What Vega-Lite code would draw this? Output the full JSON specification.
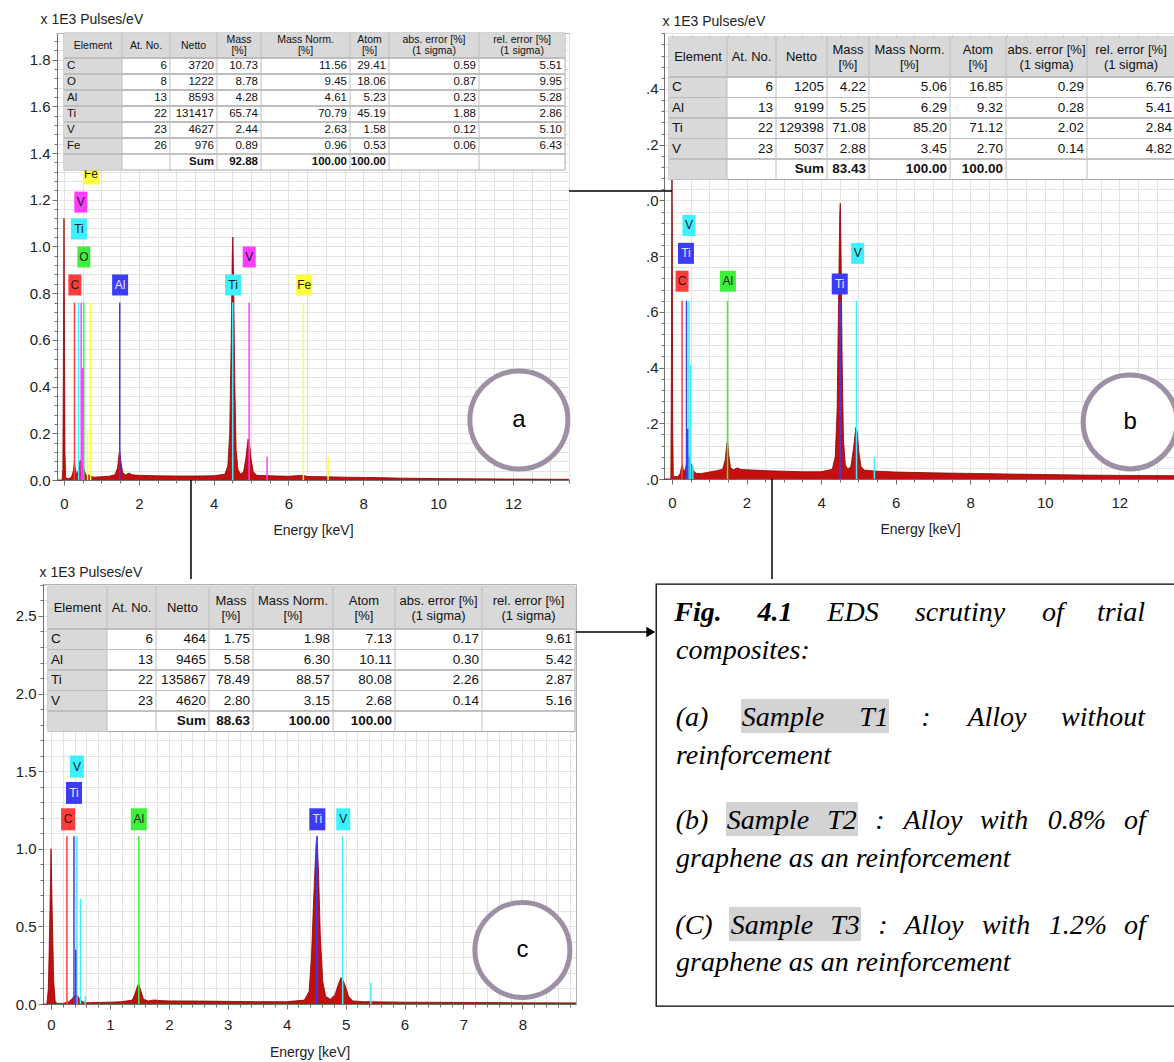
{
"$schema": "https://vega.github.io/schema/vega-lite/v6.json",
"padding": {"left": 14, "top": 11, "right": 0, "bottom": 0},
"background": "white",
"config": {
 "view": {"stroke": "#b0b0b0", "strokeWidth": 1},
 "axis": {"labelFont": "Liberation Sans", "titleFont": "Liberation Sans", "labelFontSize": 15, "titleFontSize": 14, "titleFontWeight": "normal", "labelColor": "#222222", "titleColor": "#222222", "gridColor": "#e3e3e3", "domainColor": "#707070", "tickColor": "#707070", "tickSize": 4, "labelOverlap": false},
 "text": {"font": "Liberation Sans"}
},
"datasets": {
 "specA": [{"e":-0.187,"v":0},{"e":-0.05,"v":0},{"e":-0.03,"v":0.05},{"e":-0.015,"v":0.55},{"e":0,"v":1.12},{"e":0.012,"v":0.65},{"e":0.025,"v":0.12},{"e":0.045,"v":0.01},{"e":0.12,"v":0.005},{"e":0.2,"v":0.012},{"e":0.25,"v":0.04},{"e":0.28,"v":0.075},{"e":0.3,"v":0.05},{"e":0.34,"v":0.02},{"e":0.38,"v":0.04},{"e":0.43,"v":0.085},{"e":0.47,"v":0.07},{"e":0.51,"v":0.06},{"e":0.55,"v":0.035},{"e":0.6,"v":0.018},{"e":0.66,"v":0.022},{"e":0.72,"v":0.016},{"e":0.8,"v":0.012},{"e":1.0,"v":0.014},{"e":1.2,"v":0.016},{"e":1.36,"v":0.022},{"e":1.43,"v":0.05},{"e":1.47,"v":0.11},{"e":1.49,"v":0.125},{"e":1.52,"v":0.08},{"e":1.57,"v":0.03},{"e":1.65,"v":0.022},{"e":1.74,"v":0.03},{"e":1.82,"v":0.022},{"e":2.0,"v":0.02},{"e":2.5,"v":0.018},{"e":3.0,"v":0.017},{"e":3.5,"v":0.017},{"e":4.0,"v":0.018},{"e":4.3,"v":0.025},{"e":4.38,"v":0.06},{"e":4.43,"v":0.2},{"e":4.47,"v":0.6},{"e":4.5,"v":0.98},{"e":4.515,"v":1.04},{"e":4.535,"v":0.85},{"e":4.565,"v":0.42},{"e":4.6,"v":0.13},{"e":4.65,"v":0.045},{"e":4.72,"v":0.025},{"e":4.8,"v":0.035},{"e":4.86,"v":0.09},{"e":4.92,"v":0.175},{"e":4.96,"v":0.16},{"e":5.0,"v":0.09},{"e":5.06,"v":0.035},{"e":5.15,"v":0.02},{"e":5.5,"v":0.018},{"e":6.0,"v":0.016},{"e":6.4,"v":0.02},{"e":6.5,"v":0.015},{"e":7.0,"v":0.014},{"e":7.5,"v":0.012},{"e":8.0,"v":0.011},{"e":8.5,"v":0.01},{"e":9.0,"v":0.008},{"e":9.5,"v":0.007},{"e":10.0,"v":0.006},{"e":11.0,"v":0.005},{"e":12.0,"v":0.004},{"e":13.5,"v":0.003}],
 "lineA": [{"el":"C","e":0.28,"h":0.76},{"el":"Ti","e":0.39,"h":0.76},{"el":"V","e":0.46,"h":0.76},{"el":"O","e":0.53,"h":0.76},{"el":"V","e":0.5,"h":0.48},{"el":"Fe","e":0.63,"h":0.22},{"el":"Fe","e":0.71,"h":0.76},{"el":"Al","e":1.49,"h":0.76},{"el":"Ti","e":4.51,"h":0.76},{"el":"V","e":4.95,"h":0.76},{"el":"V","e":5.43,"h":0.1},{"el":"Fe","e":6.4,"h":0.76},{"el":"Fe","e":7.06,"h":0.1}],
 "labA": [{"el":"C","e":0.29,"v":0.835},{"el":"O","e":0.53,"v":0.955},{"el":"Ti","e":0.4,"v":1.075},{"el":"V","e":0.45,"v":1.19},{"el":"Fe","e":0.72,"v":1.31},{"el":"Al","e":1.5,"v":0.835},{"el":"Ti","e":4.52,"v":0.835},{"el":"V","e":4.95,"v":0.955},{"el":"Fe","e":6.42,"v":0.835}],
 "specB": [{"e":-0.214,"v":0},{"e":-0.03,"v":0},{"e":-0.015,"v":0.4},{"e":-0.005,"v":1.0},{"e":0,"v":1.1},{"e":0.008,"v":0.9},{"e":0.018,"v":0.2},{"e":0.035,"v":0.01},{"e":0.15,"v":0.008},{"e":0.22,"v":0.02},{"e":0.26,"v":0.045},{"e":0.28,"v":0.05},{"e":0.31,"v":0.03},{"e":0.35,"v":0.03},{"e":0.4,"v":0.06},{"e":0.45,"v":0.085},{"e":0.49,"v":0.06},{"e":0.53,"v":0.05},{"e":0.58,"v":0.03},{"e":0.65,"v":0.02},{"e":0.8,"v":0.02},{"e":1.0,"v":0.025},{"e":1.2,"v":0.03},{"e":1.36,"v":0.035},{"e":1.43,"v":0.07},{"e":1.47,"v":0.125},{"e":1.49,"v":0.135},{"e":1.52,"v":0.09},{"e":1.57,"v":0.04},{"e":1.65,"v":0.033},{"e":1.75,"v":0.04},{"e":1.85,"v":0.034},{"e":2.0,"v":0.033},{"e":2.5,"v":0.03},{"e":3.0,"v":0.028},{"e":3.5,"v":0.026},{"e":4.0,"v":0.026},{"e":4.3,"v":0.035},{"e":4.38,"v":0.08},{"e":4.43,"v":0.25},{"e":4.47,"v":0.65},{"e":4.5,"v":0.95},{"e":4.515,"v":0.99},{"e":4.535,"v":0.82},{"e":4.565,"v":0.42},{"e":4.6,"v":0.14},{"e":4.65,"v":0.05},{"e":4.72,"v":0.035},{"e":4.8,"v":0.045},{"e":4.87,"v":0.11},{"e":4.93,"v":0.185},{"e":4.97,"v":0.17},{"e":5.01,"v":0.1},{"e":5.07,"v":0.045},{"e":5.15,"v":0.032},{"e":5.5,"v":0.028},{"e":6.0,"v":0.025},{"e":7.0,"v":0.022},{"e":8.0,"v":0.02},{"e":9.0,"v":0.018},{"e":10.0,"v":0.016},{"e":11.0,"v":0.014},{"e":12.0,"v":0.013},{"e":13.52,"v":0.012}],
 "lineB": [{"el":"C","e":0.27,"h":0.64},{"el":"Ti","e":0.39,"h":0.64},{"el":"V","e":0.455,"h":0.64},{"el":"Ti","e":0.42,"h":0.18},{"el":"V","e":0.5,"h":0.41},{"el":"V","e":0.56,"h":0.05},{"el":"Al","e":1.49,"h":0.64},{"el":"Ti","e":4.51,"h":0.64},{"el":"V","e":4.95,"h":0.64},{"el":"V","e":5.43,"h":0.08}],
 "labB": [{"el":"C","e":0.27,"v":0.71},{"el":"Ti","e":0.375,"v":0.81},{"el":"V","e":0.455,"v":0.91},{"el":"Al","e":1.5,"v":0.71},{"el":"Ti","e":4.5,"v":0.7},{"el":"V","e":4.98,"v":0.81}],
 "specC": [{"e":-0.136,"v":0},{"e":-0.07,"v":0},{"e":-0.045,"v":0.1},{"e":-0.02,"v":0.55},{"e":0,"v":1.0},{"e":0.02,"v":0.6},{"e":0.045,"v":0.15},{"e":0.07,"v":0.02},{"e":0.1,"v":0.004},{"e":0.2,"v":0.004},{"e":0.26,"v":0.01},{"e":0.3,"v":0.015},{"e":0.35,"v":0.03},{"e":0.4,"v":0.055},{"e":0.44,"v":0.06},{"e":0.48,"v":0.035},{"e":0.53,"v":0.015},{"e":0.6,"v":0.008},{"e":0.8,"v":0.01},{"e":1.0,"v":0.012},{"e":1.2,"v":0.015},{"e":1.38,"v":0.025},{"e":1.43,"v":0.07},{"e":1.47,"v":0.12},{"e":1.49,"v":0.13},{"e":1.52,"v":0.09},{"e":1.57,"v":0.03},{"e":1.65,"v":0.02},{"e":1.75,"v":0.026},{"e":1.85,"v":0.022},{"e":2.0,"v":0.02},{"e":2.5,"v":0.019},{"e":3.0,"v":0.017},{"e":3.5,"v":0.015},{"e":4.0,"v":0.015},{"e":4.3,"v":0.025},{"e":4.38,"v":0.08},{"e":4.42,"v":0.3},{"e":4.46,"v":0.7},{"e":4.5,"v":1.04},{"e":4.515,"v":1.08},{"e":4.54,"v":0.85},{"e":4.57,"v":0.45},{"e":4.61,"v":0.15},{"e":4.66,"v":0.05},{"e":4.74,"v":0.03},{"e":4.82,"v":0.06},{"e":4.87,"v":0.12},{"e":4.92,"v":0.17},{"e":4.96,"v":0.15},{"e":5.0,"v":0.11},{"e":5.05,"v":0.05},{"e":5.12,"v":0.02},{"e":5.3,"v":0.015},{"e":6.0,"v":0.012},{"e":7.0,"v":0.01},{"e":8.0,"v":0.008},{"e":8.91,"v":0.007}],
 "lineC": [{"el":"C","e":0.27,"h":1.08},{"el":"Ti","e":0.39,"h":1.08},{"el":"V","e":0.44,"h":1.08},{"el":"Ti","e":0.42,"h":0.35},{"el":"V","e":0.5,"h":0.68},{"el":"V","e":0.58,"h":0.05},{"el":"Al","e":1.49,"h":1.08},{"el":"Ti","e":4.51,"h":1.08},{"el":"V","e":4.95,"h":1.08},{"el":"V","e":5.43,"h":0.135}],
 "labC": [{"el":"C","e":0.29,"v":1.19},{"el":"Ti","e":0.39,"v":1.36},{"el":"V","e":0.44,"v":1.53},{"el":"Al","e":1.49,"v":1.19},{"el":"Ti","e":4.52,"v":1.19},{"el":"V","e":4.96,"v":1.19}],
 "hdr": [{"c":1,"t":"Element"},{"c":2,"t":"At. No."},{"c":3,"t":"Netto"},{"c":4,"t":"Mass\n[%]"},{"c":5,"t":"Mass Norm.\n[%]"},{"c":6,"t":"Atom\n[%]"},{"c":7,"t":"abs. error [%]\n(1 sigma)"},{"c":8,"t":"rel. error [%]\n(1 sigma)"}],
 "tabA": [
  {"r":1,"c":1,"t":"C"},{"r":1,"c":2,"t":"6"},{"r":1,"c":3,"t":"3720"},{"r":1,"c":4,"t":"10.73"},{"r":1,"c":5,"t":"11.56"},{"r":1,"c":6,"t":"29.41"},{"r":1,"c":7,"t":"0.59"},{"r":1,"c":8,"t":"5.51"},
  {"r":2,"c":1,"t":"O"},{"r":2,"c":2,"t":"8"},{"r":2,"c":3,"t":"1222"},{"r":2,"c":4,"t":"8.78"},{"r":2,"c":5,"t":"9.45"},{"r":2,"c":6,"t":"18.06"},{"r":2,"c":7,"t":"0.87"},{"r":2,"c":8,"t":"9.95"},
  {"r":3,"c":1,"t":"Al"},{"r":3,"c":2,"t":"13"},{"r":3,"c":3,"t":"8593"},{"r":3,"c":4,"t":"4.28"},{"r":3,"c":5,"t":"4.61"},{"r":3,"c":6,"t":"5.23"},{"r":3,"c":7,"t":"0.23"},{"r":3,"c":8,"t":"5.28"},
  {"r":4,"c":1,"t":"Ti"},{"r":4,"c":2,"t":"22"},{"r":4,"c":3,"t":"131417"},{"r":4,"c":4,"t":"65.74"},{"r":4,"c":5,"t":"70.79"},{"r":4,"c":6,"t":"45.19"},{"r":4,"c":7,"t":"1.88"},{"r":4,"c":8,"t":"2.86"},
  {"r":5,"c":1,"t":"V"},{"r":5,"c":2,"t":"23"},{"r":5,"c":3,"t":"4627"},{"r":5,"c":4,"t":"2.44"},{"r":5,"c":5,"t":"2.63"},{"r":5,"c":6,"t":"1.58"},{"r":5,"c":7,"t":"0.12"},{"r":5,"c":8,"t":"5.10"},
  {"r":6,"c":1,"t":"Fe"},{"r":6,"c":2,"t":"26"},{"r":6,"c":3,"t":"976"},{"r":6,"c":4,"t":"0.89"},{"r":6,"c":5,"t":"0.96"},{"r":6,"c":6,"t":"0.53"},{"r":6,"c":7,"t":"0.06"},{"r":6,"c":8,"t":"6.43"},
  {"r":7,"c":3,"t":"Sum"},{"r":7,"c":4,"t":"92.88"},{"r":7,"c":5,"t":"100.00"},{"r":7,"c":6,"t":"100.00"}],
 "tabB": [
  {"r":1,"c":1,"t":"C"},{"r":1,"c":2,"t":"6"},{"r":1,"c":3,"t":"1205"},{"r":1,"c":4,"t":"4.22"},{"r":1,"c":5,"t":"5.06"},{"r":1,"c":6,"t":"16.85"},{"r":1,"c":7,"t":"0.29"},{"r":1,"c":8,"t":"6.76"},
  {"r":2,"c":1,"t":"Al"},{"r":2,"c":2,"t":"13"},{"r":2,"c":3,"t":"9199"},{"r":2,"c":4,"t":"5.25"},{"r":2,"c":5,"t":"6.29"},{"r":2,"c":6,"t":"9.32"},{"r":2,"c":7,"t":"0.28"},{"r":2,"c":8,"t":"5.41"},
  {"r":3,"c":1,"t":"Ti"},{"r":3,"c":2,"t":"22"},{"r":3,"c":3,"t":"129398"},{"r":3,"c":4,"t":"71.08"},{"r":3,"c":5,"t":"85.20"},{"r":3,"c":6,"t":"71.12"},{"r":3,"c":7,"t":"2.02"},{"r":3,"c":8,"t":"2.84"},
  {"r":4,"c":1,"t":"V"},{"r":4,"c":2,"t":"23"},{"r":4,"c":3,"t":"5037"},{"r":4,"c":4,"t":"2.88"},{"r":4,"c":5,"t":"3.45"},{"r":4,"c":6,"t":"2.70"},{"r":4,"c":7,"t":"0.14"},{"r":4,"c":8,"t":"4.82"},
  {"r":5,"c":3,"t":"Sum"},{"r":5,"c":4,"t":"83.43"},{"r":5,"c":5,"t":"100.00"},{"r":5,"c":6,"t":"100.00"}],
 "tabC": [
  {"r":1,"c":1,"t":"C"},{"r":1,"c":2,"t":"6"},{"r":1,"c":3,"t":"464"},{"r":1,"c":4,"t":"1.75"},{"r":1,"c":5,"t":"1.98"},{"r":1,"c":6,"t":"7.13"},{"r":1,"c":7,"t":"0.17"},{"r":1,"c":8,"t":"9.61"},
  {"r":2,"c":1,"t":"Al"},{"r":2,"c":2,"t":"13"},{"r":2,"c":3,"t":"9465"},{"r":2,"c":4,"t":"5.58"},{"r":2,"c":5,"t":"6.30"},{"r":2,"c":6,"t":"10.11"},{"r":2,"c":7,"t":"0.30"},{"r":2,"c":8,"t":"5.42"},
  {"r":3,"c":1,"t":"Ti"},{"r":3,"c":2,"t":"22"},{"r":3,"c":3,"t":"135867"},{"r":3,"c":4,"t":"78.49"},{"r":3,"c":5,"t":"88.57"},{"r":3,"c":6,"t":"80.08"},{"r":3,"c":7,"t":"2.26"},{"r":3,"c":8,"t":"2.87"},
  {"r":4,"c":1,"t":"V"},{"r":4,"c":2,"t":"23"},{"r":4,"c":3,"t":"4620"},{"r":4,"c":4,"t":"2.80"},{"r":4,"c":5,"t":"3.15"},{"r":4,"c":6,"t":"2.68"},{"r":4,"c":7,"t":"0.14"},{"r":4,"c":8,"t":"5.16"},
  {"r":5,"c":3,"t":"Sum"},{"r":5,"c":4,"t":"88.63"},{"r":5,"c":5,"t":"100.00"},{"r":5,"c":6,"t":"100.00"}],
 "cap": [
  {"line":1,"w":0,"t":"Fig."},{"line":1,"w":1,"t":"4.1"},{"line":1,"w":2,"t":"EDS"},{"line":1,"w":3,"t":"scrutiny"},{"line":1,"w":4,"t":"of"},{"line":1,"w":5,"t":"trial"},
  {"line":2,"w":0,"t":"composites:"},
  {"line":3,"w":0,"t":"(a)"},{"line":3,"w":1,"t":"Sample"},{"line":3,"w":2,"t":"T1"},{"line":3,"w":3,"t":":"},{"line":3,"w":4,"t":"Alloy"},{"line":3,"w":5,"t":"without"},
  {"line":4,"w":0,"t":"reinforcement"},
  {"line":5,"w":0,"t":"(b)"},{"line":5,"w":1,"t":"Sample"},{"line":5,"w":2,"t":"T2"},{"line":5,"w":3,"t":":"},{"line":5,"w":4,"t":"Alloy"},{"line":5,"w":5,"t":"with"},{"line":5,"w":6,"t":"0.8%"},{"line":5,"w":7,"t":"of"},
  {"line":6,"w":0,"t":"graphene as an reinforcement"},
  {"line":7,"w":0,"t":"(C)"},{"line":7,"w":1,"t":"Sample"},{"line":7,"w":2,"t":"T3"},{"line":7,"w":3,"t":":"},{"line":7,"w":4,"t":"Alloy"},{"line":7,"w":5,"t":"with"},{"line":7,"w":6,"t":"1.2%"},{"line":7,"w":7,"t":"of"},
  {"line":8,"w":0,"t":"graphene as an reinforcement"}]
},
"concat": [
 {
  "hconcat": [
   {"width": 1, "height": 1, "view": {"stroke": null, "fill": "white"}, "data": {"values": [{}]}, "mark": {"type": "text"}, "encoding": {"text": {"value": ""}}},
   {
  "hconcat": [
   {
    "width": 512, "height": 447,
    "resolve": {"scale": {"x": "independent", "y": "independent"}},
    "layer": [
     {
      "resolve": {"axis": {"x": "independent", "y": "independent"}},
      "layer": [
       {"data": {"name": "specA"}, "mark": {"type": "area", "color": "#c40f0f", "opacity": 1, "line": {"color": "#8c0000", "strokeWidth": 0.8}},
        "encoding": {
         "x": {"field": "e", "type": "quantitative", "scale": {"domain": [-0.187, 13.5], "nice": false, "zero": false},
               "axis": {"orient": "bottom", "values": [0,2,4,6,8,10,12], "format": "d", "title": "Energy [keV]", "labelPadding": 11, "titlePadding": 12, "tickSize": 5, "grid": false, "labelFlush": false}},
         "y": {"field": "v", "type": "quantitative", "scale": {"domain": [0, 1.914], "nice": false, "zero": false},
               "axis": {"orient": "left", "values": [0,0.2,0.4,0.6,0.8,1,1.2,1.4,1.6,1.8], "format": ".1f", "title": "x 1E3 Pulses/eV", "titleAngle": 0, "titleAlign": "left", "titleBaseline": "alphabetic", "titleX": -17, "titleY": -10, "labelPadding": 2, "tickSize": 5, "grid": false}}
        }},
       {"data": {"name": "lineA"}, "mark": {"type": "rule", "strokeWidth": 1.5},
        "encoding": {"x": {"field": "e", "type": "quantitative", "axis": {"orient": "bottom", "values": [0,0.5,1,1.5,2,2.5,3,3.5,4,4.5,5,5.5,6,6.5,7,7.5,8,8.5,9,9.5,10,10.5,11,11.5,12,12.5,13,13.5], "labels": false, "grid": true, "tickSize": 3, "title": null, "domain": false}},
         "y": {"field": "h", "type": "quantitative", "axis": {"orient": "left", "values": [0,0.04,0.08,0.12,0.16,0.2,0.24,0.28,0.32,0.36,0.4,0.44,0.48,0.52,0.56,0.6,0.64,0.68,0.72,0.76,0.8,0.84,0.88,0.92,0.96,1,1.04,1.08,1.12,1.16,1.2,1.24,1.28,1.32,1.36,1.4,1.44,1.48,1.52,1.56,1.6,1.64,1.68,1.72,1.76,1.8,1.84,1.88], "labels": false, "grid": true, "tickSize": 3, "title": null, "domain": false}},
         "y2": {"datum": 0},
         "color": {"field": "el", "type": "nominal", "scale": {"domain": ["C","O","Al","Ti","V","Fe"], "range": ["#ff3c3c","#3cf03c","#3c3cf5","#3cf0ff","#ff3cff","#ffff3c"]}, "legend": null}}},
       {"data": {"name": "labA"}, "transform": [{"filter": "length(datum.el) == 1"}], "mark": {"type": "tick", "orient": "vertical", "size": 21, "thickness": 13, "opacity": 1},
        "encoding": {"x": {"field": "e", "type": "quantitative", "axis": null}, "y": {"field": "v", "type": "quantitative", "axis": null}, "color": {"field": "el", "type": "nominal", "legend": null}}},
       {"data": {"name": "labA"}, "transform": [{"filter": "length(datum.el) == 2"}], "mark": {"type": "tick", "orient": "vertical", "size": 21, "thickness": 16, "opacity": 1},
        "encoding": {"x": {"field": "e", "type": "quantitative", "axis": null}, "y": {"field": "v", "type": "quantitative", "axis": null}, "color": {"field": "el", "type": "nominal", "legend": null}}},
       {"data": {"name": "labA"}, "mark": {"type": "text", "fontSize": 12, "align": "center", "baseline": "middle"},
        "encoding": {"x": {"field": "e", "type": "quantitative", "axis": null}, "y": {"field": "v", "type": "quantitative", "axis": null}, "text": {"field": "el"},
         "color": {"condition": {"test": "datum.el == 'Al'", "value": "#e6e6ff"}, "value": "#1a1a1a"}}},
       {"data": {"values": [{"e": 12.16, "v": 0.257, "t": "a"}]}, "mark": {"type": "point", "shape": "circle", "size": 9604, "filled": true, "fill": "white", "stroke": "#9d90a4", "strokeWidth": 5, "opacity": 1},
        "encoding": {"x": {"field": "e", "type": "quantitative", "axis": null}, "y": {"field": "v", "type": "quantitative", "axis": null}}},
       {"data": {"values": [{"e": 12.16, "v": 0.257, "t": "a"}]}, "mark": {"type": "text", "fontSize": 24, "color": "black", "align": "center", "baseline": "middle"},
        "encoding": {"x": {"field": "e", "type": "quantitative", "axis": null}, "y": {"field": "v", "type": "quantitative", "axis": null}, "text": {"field": "t"}}},
       {"data": {"values": [{}]}, "mark": {"type": "rule", "color": "black", "strokeWidth": 1.5},
        "encoding": {"x": {"datum": 3.395, "type": "quantitative", "axis": null}, "y": {"datum": 0, "type": "quantitative", "axis": null}, "y2": {"datum": -0.424}}}
      ]
     },
     {
      "layer": [
       {"data": {"values": [{}]}, "mark": {"type": "rect", "fill": "white", "stroke": "#a8a8a8", "strokeWidth": 1},
        "encoding": {"x": {"datum": 0, "type": "quantitative", "scale": {"domain": [0,1,2,3,4,5,6,7,8], "range": [7,65,113,160,204,293,332,422,508], "nice": false, "zero": false}, "axis": null}, "x2": {"datum": 8},
                     "y": {"datum": 0, "type": "quantitative", "scale": {"domain": [0,1,2,3,4,5,6,7,8], "range": [0,25,41,57,73,89,105,121,137], "nice": false, "zero": false}, "axis": null}, "y2": {"datum": 8}}},
       {"data": {"values": [{}]}, "mark": {"type": "rect", "fill": "#d9d9d9"},
        "encoding": {"x": {"datum": 0, "type": "quantitative"}, "x2": {"datum": 8}, "y": {"datum": 0, "type": "quantitative"}, "y2": {"datum": 1}}},
       {"data": {"values": [{}]}, "mark": {"type": "rect", "fill": "#d9d9d9"},
        "encoding": {"x": {"datum": 0, "type": "quantitative"}, "x2": {"datum": 1}, "y": {"datum": 1, "type": "quantitative"}, "y2": {"datum": 8}}},
       {"data": {"name": "hdr"}, "transform": [{"filter": "datum.c < 8"}], "mark": {"type": "rule", "color": "#bdbdbd"},
        "encoding": {"x": {"field": "c", "type": "quantitative"}, "y": {"datum": 0, "type": "quantitative"}, "y2": {"datum": 8}}},
       {"data": {"name": "tabA"}, "mark": {"type": "rule", "color": "#bdbdbd"},
        "encoding": {"y": {"field": "r", "type": "quantitative"}, "x": {"datum": 0, "type": "quantitative"}, "x2": {"datum": 8}}}
      ]
     },
     {"data": {"name": "hdr"}, "transform": [{"filter": "datum.c <= 3"}], "mark": {"type": "text", "align": "center", "baseline": "middle", "fontSize": 10.5, "color": "#111111"},
      "encoding": {"x": {"field": "c", "type": "quantitative", "scale": {"domain": [0.5,1.5,2.5,3.5,4.5,5.5,6.5,7.5,8.5], "range": [7,65,113,160,204,293,332,422,508], "nice": false, "zero": false}, "axis": null},
                   "y": {"datum": 0, "type": "quantitative", "scale": {"domain": [-0.5,0.5,1.5,2.5,3.5,4.5,5.5,6.5,7.5], "range": [0,25,41,57,73,89,105,121,137], "nice": false, "zero": false}, "axis": null},
                   "text": {"field": "t"}}},
     {"data": {"name": "hdr"}, "transform": [{"filter": "datum.c > 3"}], "mark": {"type": "text", "align": "center", "baseline": "middle", "lineBreak": "\n", "fontSize": 10.5, "lineHeight": 11, "dy": -5.5, "color": "#111111"},
      "encoding": {"x": {"field": "c", "type": "quantitative", "scale": {"domain": [0.5,1.5,2.5,3.5,4.5,5.5,6.5,7.5,8.5], "range": [7,65,113,160,204,293,332,422,508], "nice": false, "zero": false}, "axis": null},
                   "y": {"datum": 0, "type": "quantitative", "scale": {"domain": [-0.5,0.5,1.5,2.5,3.5,4.5,5.5,6.5,7.5], "range": [0,25,41,57,73,89,105,121,137], "nice": false, "zero": false}, "axis": null},
                   "text": {"field": "t"}}},
     {"data": {"name": "tabA"}, "transform": [{"filter": "datum.c == 1"}], "mark": {"type": "text", "align": "left", "baseline": "middle", "dx": 3, "fontSize": 11.5, "color": "#111111"},
      "encoding": {"x": {"field": "c", "type": "quantitative", "scale": {"domain": [1,2,3,4,5,6,7,8,9], "range": [7,65,113,160,204,293,332,422,508], "nice": false, "zero": false}, "axis": null},
                   "y": {"field": "r", "type": "quantitative", "scale": {"domain": [-0.5,0.5,1.5,2.5,3.5,4.5,5.5,6.5,7.5], "range": [0,25,41,57,73,89,105,121,137], "nice": false, "zero": false}, "axis": null},
                   "text": {"field": "t"}}},
     {"data": {"name": "tabA"}, "transform": [{"filter": "datum.c > 1 && datum.r < 7"}], "mark": {"type": "text", "align": "right", "baseline": "middle", "dx": -3, "fontSize": 11.5, "color": "#111111"},
      "encoding": {"x": {"field": "c", "type": "quantitative", "scale": {"domain": [0,1,2,3,4,5,6,7,8], "range": [7,65,113,160,204,293,332,422,508], "nice": false, "zero": false}, "axis": null},
                   "y": {"field": "r", "type": "quantitative", "scale": {"domain": [-0.5,0.5,1.5,2.5,3.5,4.5,5.5,6.5,7.5], "range": [0,25,41,57,73,89,105,121,137], "nice": false, "zero": false}, "axis": null},
                   "text": {"field": "t"}}},
     {"data": {"name": "tabA"}, "transform": [{"filter": "datum.r == 7"}], "mark": {"type": "text", "align": "right", "baseline": "middle", "dx": -3, "fontSize": 11.5, "fontWeight": "bold", "color": "#111111"},
      "encoding": {"x": {"field": "c", "type": "quantitative", "scale": {"domain": [0,1,2,3,4,5,6,7,8], "range": [7,65,113,160,204,293,332,422,508], "nice": false, "zero": false}, "axis": null},
                   "y": {"field": "r", "type": "quantitative", "scale": {"domain": [-0.5,0.5,1.5,2.5,3.5,4.5,5.5,6.5,7.5], "range": [0,25,41,57,73,89,105,121,137], "nice": false, "zero": false}, "axis": null},
                   "text": {"field": "t"}}}
    ]
   },
   {
    "width": 512, "height": 446,
    "resolve": {"scale": {"x": "independent", "y": "independent"}},
    "layer": [
     {
      "resolve": {"axis": {"x": "independent", "y": "independent"}},
      "layer": [
       {"data": {"name": "specB"}, "mark": {"type": "area", "color": "#c40f0f", "opacity": 1, "line": {"color": "#8c0000", "strokeWidth": 0.8}},
        "encoding": {
         "x": {"field": "e", "type": "quantitative", "scale": {"domain": [-0.214, 13.52], "nice": false, "zero": false},
               "axis": {"orient": "bottom", "values": [0,2,4,6,8,10,12], "format": "d", "title": "Energy [keV]", "labelPadding": 11, "titlePadding": 12, "tickSize": 5, "grid": false, "labelFlush": false}},
         "y": {"field": "v", "type": "quantitative", "scale": {"domain": [0, 1.601], "nice": false, "zero": false},
               "axis": {"orient": "left", "values": [0,0.2,0.4,0.6,0.8,1,1.2,1.4], "labelExpr": "slice(format(datum.value, '.1f'), 1)", "title": "x 1E3 Pulses/eV", "titleAngle": 0, "titleAlign": "left", "titleBaseline": "alphabetic", "titleX": -2, "titleY": -8, "labelPadding": 1, "tickSize": 5, "grid": false}}
        }},
       {"data": {"name": "lineB"}, "mark": {"type": "rule", "strokeWidth": 1.5},
        "encoding": {"x": {"field": "e", "type": "quantitative", "axis": {"orient": "bottom", "values": [0,0.5,1,1.5,2,2.5,3,3.5,4,4.5,5,5.5,6,6.5,7,7.5,8,8.5,9,9.5,10,10.5,11,11.5,12,12.5,13,13.5], "labels": false, "grid": true, "tickSize": 3, "title": null, "domain": false}},
         "y": {"field": "h", "type": "quantitative", "axis": {"orient": "left", "values": [0,0.04,0.08,0.12,0.16,0.2,0.24,0.28,0.32,0.36,0.4,0.44,0.48,0.52,0.56,0.6,0.64,0.68,0.72,0.76,0.8,0.84,0.88,0.92,0.96,1,1.04,1.08,1.12,1.16,1.2,1.24,1.28,1.32,1.36,1.4,1.44,1.48,1.52,1.56,1.6], "labels": false, "grid": true, "tickSize": 3, "title": null, "domain": false}},
         "y2": {"datum": 0},
         "color": {"field": "el", "type": "nominal", "scale": {"domain": ["C","Al","Ti","V"], "range": ["#ff3c3c","#3cf03c","#3c3cf5","#3cf0ff"]}, "legend": null}}},
       {"data": {"name": "labB"}, "transform": [{"filter": "length(datum.el) == 1"}], "mark": {"type": "tick", "orient": "vertical", "size": 21, "thickness": 13, "opacity": 1},
        "encoding": {"x": {"field": "e", "type": "quantitative", "axis": null}, "y": {"field": "v", "type": "quantitative", "axis": null}, "color": {"field": "el", "type": "nominal", "legend": null}}},
       {"data": {"name": "labB"}, "transform": [{"filter": "length(datum.el) == 2"}], "mark": {"type": "tick", "orient": "vertical", "size": 21, "thickness": 16, "opacity": 1},
        "encoding": {"x": {"field": "e", "type": "quantitative", "axis": null}, "y": {"field": "v", "type": "quantitative", "axis": null}, "color": {"field": "el", "type": "nominal", "legend": null}}},
       {"data": {"name": "labB"}, "mark": {"type": "text", "fontSize": 12, "align": "center", "baseline": "middle"},
        "encoding": {"x": {"field": "e", "type": "quantitative", "axis": null}, "y": {"field": "v", "type": "quantitative", "axis": null}, "text": {"field": "el"},
         "color": {"condition": {"test": "datum.el == 'Ti'", "value": "#e6e6ff"}, "value": "#1a1a1a"}}},
       {"data": {"values": [{"e": 12.29, "v": 0.205, "t": "b"}]}, "mark": {"type": "point", "shape": "circle", "size": 8836, "filled": true, "fill": "white", "stroke": "#9d90a4", "strokeWidth": 5, "opacity": 1},
        "encoding": {"x": {"field": "e", "type": "quantitative", "axis": null}, "y": {"field": "v", "type": "quantitative", "axis": null}}},
       {"data": {"values": [{"e": 12.29, "v": 0.205, "t": "b"}]}, "mark": {"type": "text", "fontSize": 24, "color": "black", "align": "center", "baseline": "middle"},
        "encoding": {"x": {"field": "e", "type": "quantitative", "axis": null}, "y": {"field": "v", "type": "quantitative", "axis": null}, "text": {"field": "t"}}},
       {"data": {"values": [{}]}, "mark": {"type": "rule", "color": "black", "strokeWidth": 1.5},
        "encoding": {"x": {"datum": 2.683, "type": "quantitative", "axis": null}, "y": {"datum": 0, "type": "quantitative", "axis": null}, "y2": {"datum": -0.359}}},
       {"data": {"values": [{}]}, "mark": {"type": "rule", "color": "black", "strokeWidth": 1.5},
        "encoding": {"x": {"datum": -2.762, "type": "quantitative", "axis": null}, "x2": {"datum": 0.0}, "y": {"datum": 1.034, "type": "quantitative", "axis": null}}}
      ]
     },
     {
      "layer": [
       {"data": {"values": [{}]}, "mark": {"type": "rect", "fill": "white", "stroke": "#a8a8a8", "strokeWidth": 1},
        "encoding": {"x": {"datum": 0, "type": "quantitative", "scale": {"domain": [0,1,2,3,4,5,6,7,8], "range": [5,63,112,163,205,286,342,423,511], "nice": false, "zero": false}, "axis": null}, "x2": {"datum": 8},
                     "y": {"datum": 0, "type": "quantitative", "scale": {"domain": [0,1,2,3,4,5,6], "range": [4,44,64.5,85,105.5,126,146.5], "nice": false, "zero": false}, "axis": null}, "y2": {"datum": 6}}},
       {"data": {"values": [{}]}, "mark": {"type": "rect", "fill": "#d9d9d9"},
        "encoding": {"x": {"datum": 0, "type": "quantitative"}, "x2": {"datum": 8}, "y": {"datum": 0, "type": "quantitative"}, "y2": {"datum": 1}}},
       {"data": {"values": [{}]}, "mark": {"type": "rect", "fill": "#d9d9d9"},
        "encoding": {"x": {"datum": 0, "type": "quantitative"}, "x2": {"datum": 1}, "y": {"datum": 1, "type": "quantitative"}, "y2": {"datum": 6}}},
       {"data": {"name": "hdr"}, "transform": [{"filter": "datum.c < 8"}], "mark": {"type": "rule", "color": "#bdbdbd"},
        "encoding": {"x": {"field": "c", "type": "quantitative"}, "y": {"datum": 0, "type": "quantitative"}, "y2": {"datum": 6}}},
       {"data": {"name": "tabB"}, "mark": {"type": "rule", "color": "#bdbdbd"},
        "encoding": {"y": {"field": "r", "type": "quantitative"}, "x": {"datum": 0, "type": "quantitative"}, "x2": {"datum": 8}}}
      ]
     },
     {"data": {"name": "hdr"}, "transform": [{"filter": "datum.c <= 3"}], "mark": {"type": "text", "align": "center", "baseline": "middle", "fontSize": 13, "color": "#111111"},
      "encoding": {"x": {"field": "c", "type": "quantitative", "scale": {"domain": [0.5,1.5,2.5,3.5,4.5,5.5,6.5,7.5,8.5], "range": [5,63,112,163,205,286,342,423,511], "nice": false, "zero": false}, "axis": null},
                   "y": {"datum": 0, "type": "quantitative", "scale": {"domain": [-0.5,0.5,1.5,2.5,3.5,4.5,5.5], "range": [4,44,64.5,85,105.5,126,146.5], "nice": false, "zero": false}, "axis": null},
                   "text": {"field": "t"}}},
     {"data": {"name": "hdr"}, "transform": [{"filter": "datum.c > 3"}], "mark": {"type": "text", "align": "center", "baseline": "middle", "lineBreak": "\n", "fontSize": 13, "lineHeight": 15, "dy": -7.5, "color": "#111111"},
      "encoding": {"x": {"field": "c", "type": "quantitative", "scale": {"domain": [0.5,1.5,2.5,3.5,4.5,5.5,6.5,7.5,8.5], "range": [5,63,112,163,205,286,342,423,511], "nice": false, "zero": false}, "axis": null},
                   "y": {"datum": 0, "type": "quantitative", "scale": {"domain": [-0.5,0.5,1.5,2.5,3.5,4.5,5.5], "range": [4,44,64.5,85,105.5,126,146.5], "nice": false, "zero": false}, "axis": null},
                   "text": {"field": "t"}}},
     {"data": {"name": "tabB"}, "transform": [{"filter": "datum.c == 1"}], "mark": {"type": "text", "align": "left", "baseline": "middle", "dx": 3, "fontSize": 13.5, "color": "#111111"},
      "encoding": {"x": {"field": "c", "type": "quantitative", "scale": {"domain": [1,2,3,4,5,6,7,8,9], "range": [5,63,112,163,205,286,342,423,511], "nice": false, "zero": false}, "axis": null},
                   "y": {"field": "r", "type": "quantitative", "scale": {"domain": [-0.5,0.5,1.5,2.5,3.5,4.5,5.5], "range": [4,44,64.5,85,105.5,126,146.5], "nice": false, "zero": false}, "axis": null},
                   "text": {"field": "t"}}},
     {"data": {"name": "tabB"}, "transform": [{"filter": "datum.c > 1 && datum.r < 5"}], "mark": {"type": "text", "align": "right", "baseline": "middle", "dx": -3, "fontSize": 13.5, "color": "#111111"},
      "encoding": {"x": {"field": "c", "type": "quantitative", "scale": {"domain": [0,1,2,3,4,5,6,7,8], "range": [5,63,112,163,205,286,342,423,511], "nice": false, "zero": false}, "axis": null},
                   "y": {"field": "r", "type": "quantitative", "scale": {"domain": [-0.5,0.5,1.5,2.5,3.5,4.5,5.5], "range": [4,44,64.5,85,105.5,126,146.5], "nice": false, "zero": false}, "axis": null},
                   "text": {"field": "t"}}},
     {"data": {"name": "tabB"}, "transform": [{"filter": "datum.r == 5"}], "mark": {"type": "text", "align": "right", "baseline": "middle", "dx": -3, "fontSize": 13.5, "fontWeight": "bold", "color": "#111111"},
      "encoding": {"x": {"field": "c", "type": "quantitative", "scale": {"domain": [0,1,2,3,4,5,6,7,8], "range": [5,63,112,163,205,286,342,423,511], "nice": false, "zero": false}, "axis": null},
                   "y": {"field": "r", "type": "quantitative", "scale": {"domain": [-0.5,0.5,1.5,2.5,3.5,4.5,5.5], "range": [4,44,64.5,85,105.5,126,146.5], "nice": false, "zero": false}, "axis": null},
                   "text": {"field": "t"}}}
    ]
   }
  ],
  "spacing": 95, "bounds": "flush",
  "resolve": {"scale": {"x": "independent", "y": "independent", "color": "independent"}}
   }
  ],
  "spacing": -16,
  "resolve": {"scale": {"x": "independent", "y": "independent", "color": "independent"}}
 },
 {
  "hconcat": [
   {
    "width": 533, "height": 420,
    "resolve": {"scale": {"x": "independent", "y": "independent"}},
    "layer": [
     {
      "resolve": {"axis": {"x": "independent", "y": "independent"}},
      "layer": [
       {"data": {"name": "specC"}, "mark": {"type": "area", "color": "#c40f0f", "opacity": 1, "line": {"color": "#8c0000", "strokeWidth": 0.8}},
        "encoding": {
         "x": {"field": "e", "type": "quantitative", "scale": {"domain": [-0.136, 8.91], "nice": false, "zero": false},
               "axis": {"orient": "bottom", "values": [0,1,2,3,4,5,6,7,8], "format": "d", "title": "Energy [keV]", "labelPadding": 8, "titlePadding": 13, "tickSize": 5, "grid": false, "labelFlush": false}},
         "y": {"field": "v", "type": "quantitative", "scale": {"domain": [0, 2.706], "nice": false, "zero": false},
               "axis": {"orient": "left", "values": [0,0.5,1,1.5,2,2.5], "format": ".1f", "title": "x 1E3 Pulses/eV", "titleAngle": 0, "titleAlign": "left", "titleBaseline": "alphabetic", "titleX": -4, "titleY": -8, "labelPadding": 2, "tickSize": 5, "grid": false}}
        }},
       {"data": {"name": "lineC"}, "mark": {"type": "rule", "strokeWidth": 1.5},
        "encoding": {"x": {"field": "e", "type": "quantitative", "axis": {"orient": "bottom", "values": [0,0.2,0.4,0.6,0.8,1,1.2,1.4,1.6,1.8,2,2.2,2.4,2.6,2.8,3,3.2,3.4,3.6,3.8,4,4.2,4.4,4.6,4.8,5,5.2,5.4,5.6,5.8,6,6.2,6.4,6.6,6.8,7,7.2,7.4,7.6,7.8,8,8.2,8.4,8.6,8.8], "labels": false, "grid": true, "tickSize": 3, "title": null, "domain": false}},
         "y": {"field": "h", "type": "quantitative", "axis": {"orient": "left", "values": [0,0.1,0.2,0.3,0.4,0.5,0.6,0.7,0.8,0.9,1,1.1,1.2,1.3,1.4,1.5,1.6,1.7,1.8,1.9,2,2.1,2.2,2.3,2.4,2.5,2.6,2.7], "labels": false, "grid": true, "tickSize": 3, "title": null, "domain": false}},
         "y2": {"datum": 0},
         "color": {"field": "el", "type": "nominal", "scale": {"domain": ["C","Al","Ti","V"], "range": ["#ff3c3c","#3cf03c","#3c3cf5","#3cf0ff"]}, "legend": null}}},
       {"data": {"name": "labC"}, "transform": [{"filter": "length(datum.el) == 1"}], "mark": {"type": "tick", "orient": "vertical", "size": 22, "thickness": 14, "opacity": 1},
        "encoding": {"x": {"field": "e", "type": "quantitative", "axis": null}, "y": {"field": "v", "type": "quantitative", "axis": null}, "color": {"field": "el", "type": "nominal", "legend": null}}},
       {"data": {"name": "labC"}, "transform": [{"filter": "length(datum.el) == 2"}], "mark": {"type": "tick", "orient": "vertical", "size": 22, "thickness": 16, "opacity": 1},
        "encoding": {"x": {"field": "e", "type": "quantitative", "axis": null}, "y": {"field": "v", "type": "quantitative", "axis": null}, "color": {"field": "el", "type": "nominal", "legend": null}}},
       {"data": {"name": "labC"}, "mark": {"type": "text", "fontSize": 12, "align": "center", "baseline": "middle"},
        "encoding": {"x": {"field": "e", "type": "quantitative", "axis": null}, "y": {"field": "v", "type": "quantitative", "axis": null}, "text": {"field": "el"},
         "color": {"condition": {"test": "datum.el == 'Ti'", "value": "#e6e6ff"}, "value": "#1a1a1a"}}},
       {"data": {"values": [{"e": 8.0, "v": 0.348, "t": "c"}]}, "mark": {"type": "point", "shape": "circle", "size": 9025, "filled": true, "fill": "white", "stroke": "#9d90a4", "strokeWidth": 5, "opacity": 1},
        "encoding": {"x": {"field": "e", "type": "quantitative", "axis": null}, "y": {"field": "v", "type": "quantitative", "axis": null}}},
       {"data": {"values": [{"e": 8.0, "v": 0.348, "t": "c"}]}, "mark": {"type": "text", "fontSize": 24, "color": "black", "align": "center", "baseline": "middle"},
        "encoding": {"x": {"field": "e", "type": "quantitative", "axis": null}, "y": {"field": "v", "type": "quantitative", "axis": null}, "text": {"field": "t"}}},
       {"data": {"values": [{}]}, "mark": {"type": "rule", "color": "black", "strokeWidth": 1.5},
        "encoding": {"x": {"datum": 8.91, "type": "quantitative", "axis": null}, "x2": {"datum": 10.2}, "y": {"datum": 2.397, "type": "quantitative", "axis": null}}},
       {"data": {"values": [{}]}, "mark": {"type": "point", "shape": "triangle-right", "size": 110, "filled": true, "color": "black", "opacity": 1},
        "encoding": {"x": {"datum": 10.18, "type": "quantitative", "axis": null}, "y": {"datum": 2.397, "type": "quantitative", "axis": null}}}
      ]
     },
     {
      "layer": [
       {"data": {"values": [{}]}, "mark": {"type": "rect", "fill": "white", "stroke": "#a8a8a8", "strokeWidth": 1},
        "encoding": {"x": {"datum": 0, "type": "quantitative", "scale": {"domain": [0,1,2,3,4,5,6,7,8], "range": [5,64,113,166,210,290,352,439,532], "nice": false, "zero": false}, "axis": null}, "x2": {"datum": 8},
                     "y": {"datum": 0, "type": "quantitative", "scale": {"domain": [0,1,2,3,4,5,6], "range": [3,45,65.5,86,106.5,127,147.5], "nice": false, "zero": false}, "axis": null}, "y2": {"datum": 6}}},
       {"data": {"values": [{}]}, "mark": {"type": "rect", "fill": "#d9d9d9"},
        "encoding": {"x": {"datum": 0, "type": "quantitative"}, "x2": {"datum": 8}, "y": {"datum": 0, "type": "quantitative"}, "y2": {"datum": 1}}},
       {"data": {"values": [{}]}, "mark": {"type": "rect", "fill": "#d9d9d9"},
        "encoding": {"x": {"datum": 0, "type": "quantitative"}, "x2": {"datum": 1}, "y": {"datum": 1, "type": "quantitative"}, "y2": {"datum": 6}}},
       {"data": {"name": "hdr"}, "transform": [{"filter": "datum.c < 8"}], "mark": {"type": "rule", "color": "#bdbdbd"},
        "encoding": {"x": {"field": "c", "type": "quantitative"}, "y": {"datum": 0, "type": "quantitative"}, "y2": {"datum": 6}}},
       {"data": {"name": "tabC"}, "mark": {"type": "rule", "color": "#bdbdbd"},
        "encoding": {"y": {"field": "r", "type": "quantitative"}, "x": {"datum": 0, "type": "quantitative"}, "x2": {"datum": 8}}}
      ]
     },
     {"data": {"name": "hdr"}, "transform": [{"filter": "datum.c <= 3"}], "mark": {"type": "text", "align": "center", "baseline": "middle", "fontSize": 13, "color": "#111111"},
      "encoding": {"x": {"field": "c", "type": "quantitative", "scale": {"domain": [0.5,1.5,2.5,3.5,4.5,5.5,6.5,7.5,8.5], "range": [5,64,113,166,210,290,352,439,532], "nice": false, "zero": false}, "axis": null},
                   "y": {"datum": 0, "type": "quantitative", "scale": {"domain": [-0.5,0.5,1.5,2.5,3.5,4.5,5.5], "range": [3,45,65.5,86,106.5,127,147.5], "nice": false, "zero": false}, "axis": null},
                   "text": {"field": "t"}}},
     {"data": {"name": "hdr"}, "transform": [{"filter": "datum.c > 3"}], "mark": {"type": "text", "align": "center", "baseline": "middle", "lineBreak": "\n", "fontSize": 13, "lineHeight": 15, "dy": -7.5, "color": "#111111"},
      "encoding": {"x": {"field": "c", "type": "quantitative", "scale": {"domain": [0.5,1.5,2.5,3.5,4.5,5.5,6.5,7.5,8.5], "range": [5,64,113,166,210,290,352,439,532], "nice": false, "zero": false}, "axis": null},
                   "y": {"datum": 0, "type": "quantitative", "scale": {"domain": [-0.5,0.5,1.5,2.5,3.5,4.5,5.5], "range": [3,45,65.5,86,106.5,127,147.5], "nice": false, "zero": false}, "axis": null},
                   "text": {"field": "t"}}},
     {"data": {"name": "tabC"}, "transform": [{"filter": "datum.c == 1"}], "mark": {"type": "text", "align": "left", "baseline": "middle", "dx": 3, "fontSize": 13.5, "color": "#111111"},
      "encoding": {"x": {"field": "c", "type": "quantitative", "scale": {"domain": [1,2,3,4,5,6,7,8,9], "range": [5,64,113,166,210,290,352,439,532], "nice": false, "zero": false}, "axis": null},
                   "y": {"field": "r", "type": "quantitative", "scale": {"domain": [-0.5,0.5,1.5,2.5,3.5,4.5,5.5], "range": [3,45,65.5,86,106.5,127,147.5], "nice": false, "zero": false}, "axis": null},
                   "text": {"field": "t"}}},
     {"data": {"name": "tabC"}, "transform": [{"filter": "datum.c > 1 && datum.r < 5"}], "mark": {"type": "text", "align": "right", "baseline": "middle", "dx": -3, "fontSize": 13.5, "color": "#111111"},
      "encoding": {"x": {"field": "c", "type": "quantitative", "scale": {"domain": [0,1,2,3,4,5,6,7,8], "range": [5,64,113,166,210,290,352,439,532], "nice": false, "zero": false}, "axis": null},
                   "y": {"field": "r", "type": "quantitative", "scale": {"domain": [-0.5,0.5,1.5,2.5,3.5,4.5,5.5], "range": [3,45,65.5,86,106.5,127,147.5], "nice": false, "zero": false}, "axis": null},
                   "text": {"field": "t"}}},
     {"data": {"name": "tabC"}, "transform": [{"filter": "datum.r == 5"}], "mark": {"type": "text", "align": "right", "baseline": "middle", "dx": -3, "fontSize": 13.5, "fontWeight": "bold", "color": "#111111"},
      "encoding": {"x": {"field": "c", "type": "quantitative", "scale": {"domain": [0,1,2,3,4,5,6,7,8], "range": [5,64,113,166,210,290,352,439,532], "nice": false, "zero": false}, "axis": null},
                   "y": {"field": "r", "type": "quantitative", "scale": {"domain": [-0.5,0.5,1.5,2.5,3.5,4.5,5.5], "range": [3,45,65.5,86,106.5,127,147.5], "nice": false, "zero": false}, "axis": null},
                   "text": {"field": "t"}}}
    ]
   },
   {
    "width": 519, "height": 422,
    "view": {"stroke": "black", "strokeWidth": 1.3},
    "data": {"name": "cap"},
    "resolve": {"scale": {"x": "independent", "y": "independent"}},
    "layer": [
     {"transform": [{"filter": "datum.line % 2 == 0"}],
      "mark": {"type": "text", "align": "left", "baseline": "alphabetic", "font": "Liberation Serif", "fontStyle": "italic", "fontSize": 28, "color": "black"},
      "encoding": {"x": {"datum": 0, "type": "quantitative", "scale": {"domain": [0, 1], "range": [20, 490], "nice": false, "zero": false}, "axis": null},
                   "y": {"field": "line", "type": "quantitative", "scale": {"domain": [1,2,3,4,5,6,7,8], "range": [37,75,142,180,245,283,350,387], "nice": false, "zero": false}, "axis": null},
                   "text": {"field": "t"}}},
     {"transform": [{"filter": "datum.line == 1"}],
      "layer": [
       {"transform": [{"filter": "datum.w >= 2"}],
        "mark": {"type": "text", "align": "center", "baseline": "alphabetic", "font": "Liberation Serif", "fontStyle": "italic", "fontSize": 28, "color": "black"},
        "encoding": {"x": {"field": "w", "type": "quantitative", "scale": {"domain": [0,1,2,3,4,5], "range": [42,119,197,304,397,465], "nice": false, "zero": false}, "axis": null},
                     "y": {"field": "line", "type": "quantitative", "scale": {"domain": [1,2,3,4,5,6,7,8], "range": [37,75,142,180,245,283,350,387], "nice": false, "zero": false}, "axis": null},
                     "text": {"field": "t"}}},
       {"transform": [{"filter": "datum.w < 2"}],
        "mark": {"type": "text", "align": "center", "baseline": "alphabetic", "font": "Liberation Serif", "fontStyle": "italic", "fontWeight": "bold", "fontSize": 28, "color": "black"},
        "encoding": {"x": {"field": "w", "type": "quantitative"}, "y": {"field": "line", "type": "quantitative"}, "text": {"field": "t"}}}
      ]},
     {"transform": [{"filter": "datum.line == 3"}],
      "layer": [
       {"transform": [{"filter": "datum.t == 'Sample'"}],
        "mark": {"type": "tick", "orient": "horizontal", "size": 148, "thickness": 34, "color": "#d3d3d3", "opacity": 1, "yOffset": -10, "xOffset": 32},
        "encoding": {"x": {"field": "w", "type": "quantitative", "scale": {"domain": [0,1,2,3,4,5], "range": [36,127,218,270,341,447], "nice": false, "zero": false}, "axis": null},
                     "y": {"field": "line", "type": "quantitative", "scale": {"domain": [1,2,3,4,5,6,7,8], "range": [37,75,142,180,245,283,350,387], "nice": false, "zero": false}, "axis": null}}},
       {"mark": {"type": "text", "align": "center", "baseline": "alphabetic", "font": "Liberation Serif", "fontStyle": "italic", "fontSize": 28, "color": "black"},
        "encoding": {"x": {"field": "w", "type": "quantitative"}, "y": {"field": "line", "type": "quantitative"}, "text": {"field": "t"}}}
      ]},
     {"transform": [{"filter": "datum.line == 5"}],
      "layer": [
       {"transform": [{"filter": "datum.t == 'Sample'"}],
        "mark": {"type": "tick", "orient": "horizontal", "size": 132, "thickness": 34, "color": "#d3d3d3", "opacity": 1, "yOffset": -10, "xOffset": 24},
        "encoding": {"x": {"field": "w", "type": "quantitative", "scale": {"domain": [0,1,2,3,4,5,6,7], "range": [36,112,186,224,277,348,421,479], "nice": false, "zero": false}, "axis": null},
                     "y": {"field": "line", "type": "quantitative", "scale": {"domain": [1,2,3,4,5,6,7,8], "range": [37,75,142,180,245,283,350,387], "nice": false, "zero": false}, "axis": null}}},
       {"mark": {"type": "text", "align": "center", "baseline": "alphabetic", "font": "Liberation Serif", "fontStyle": "italic", "fontSize": 28, "color": "black"},
        "encoding": {"x": {"field": "w", "type": "quantitative"}, "y": {"field": "line", "type": "quantitative"}, "text": {"field": "t"}}}
      ]},
     {"transform": [{"filter": "datum.line == 7"}],
      "layer": [
       {"transform": [{"filter": "datum.t == 'Sample'"}],
        "mark": {"type": "tick", "orient": "horizontal", "size": 132, "thickness": 34, "color": "#d3d3d3", "opacity": 1, "yOffset": -10, "xOffset": 23},
        "encoding": {"x": {"field": "w", "type": "quantitative", "scale": {"domain": [0,1,2,3,4,5,6,7], "range": [38,116,189,227,278,350,422,479], "nice": false, "zero": false}, "axis": null},
                     "y": {"field": "line", "type": "quantitative", "scale": {"domain": [1,2,3,4,5,6,7,8], "range": [37,75,142,180,245,283,350,387], "nice": false, "zero": false}, "axis": null}}},
       {"mark": {"type": "text", "align": "center", "baseline": "alphabetic", "font": "Liberation Serif", "fontStyle": "italic", "fontSize": 28, "color": "black"},
        "encoding": {"x": {"field": "w", "type": "quantitative"}, "y": {"field": "line", "type": "quantitative"}, "text": {"field": "t"}}}
      ]}
    ]
   }
  ],
  "spacing": 80, "bounds": "flush",
  "resolve": {"scale": {"x": "independent", "y": "independent", "color": "independent"}}
 }
],
"columns": 1,
"align": "none",
"spacing": -17,
"resolve": {"scale": {"x": "independent", "y": "independent", "color": "independent"}}
}
